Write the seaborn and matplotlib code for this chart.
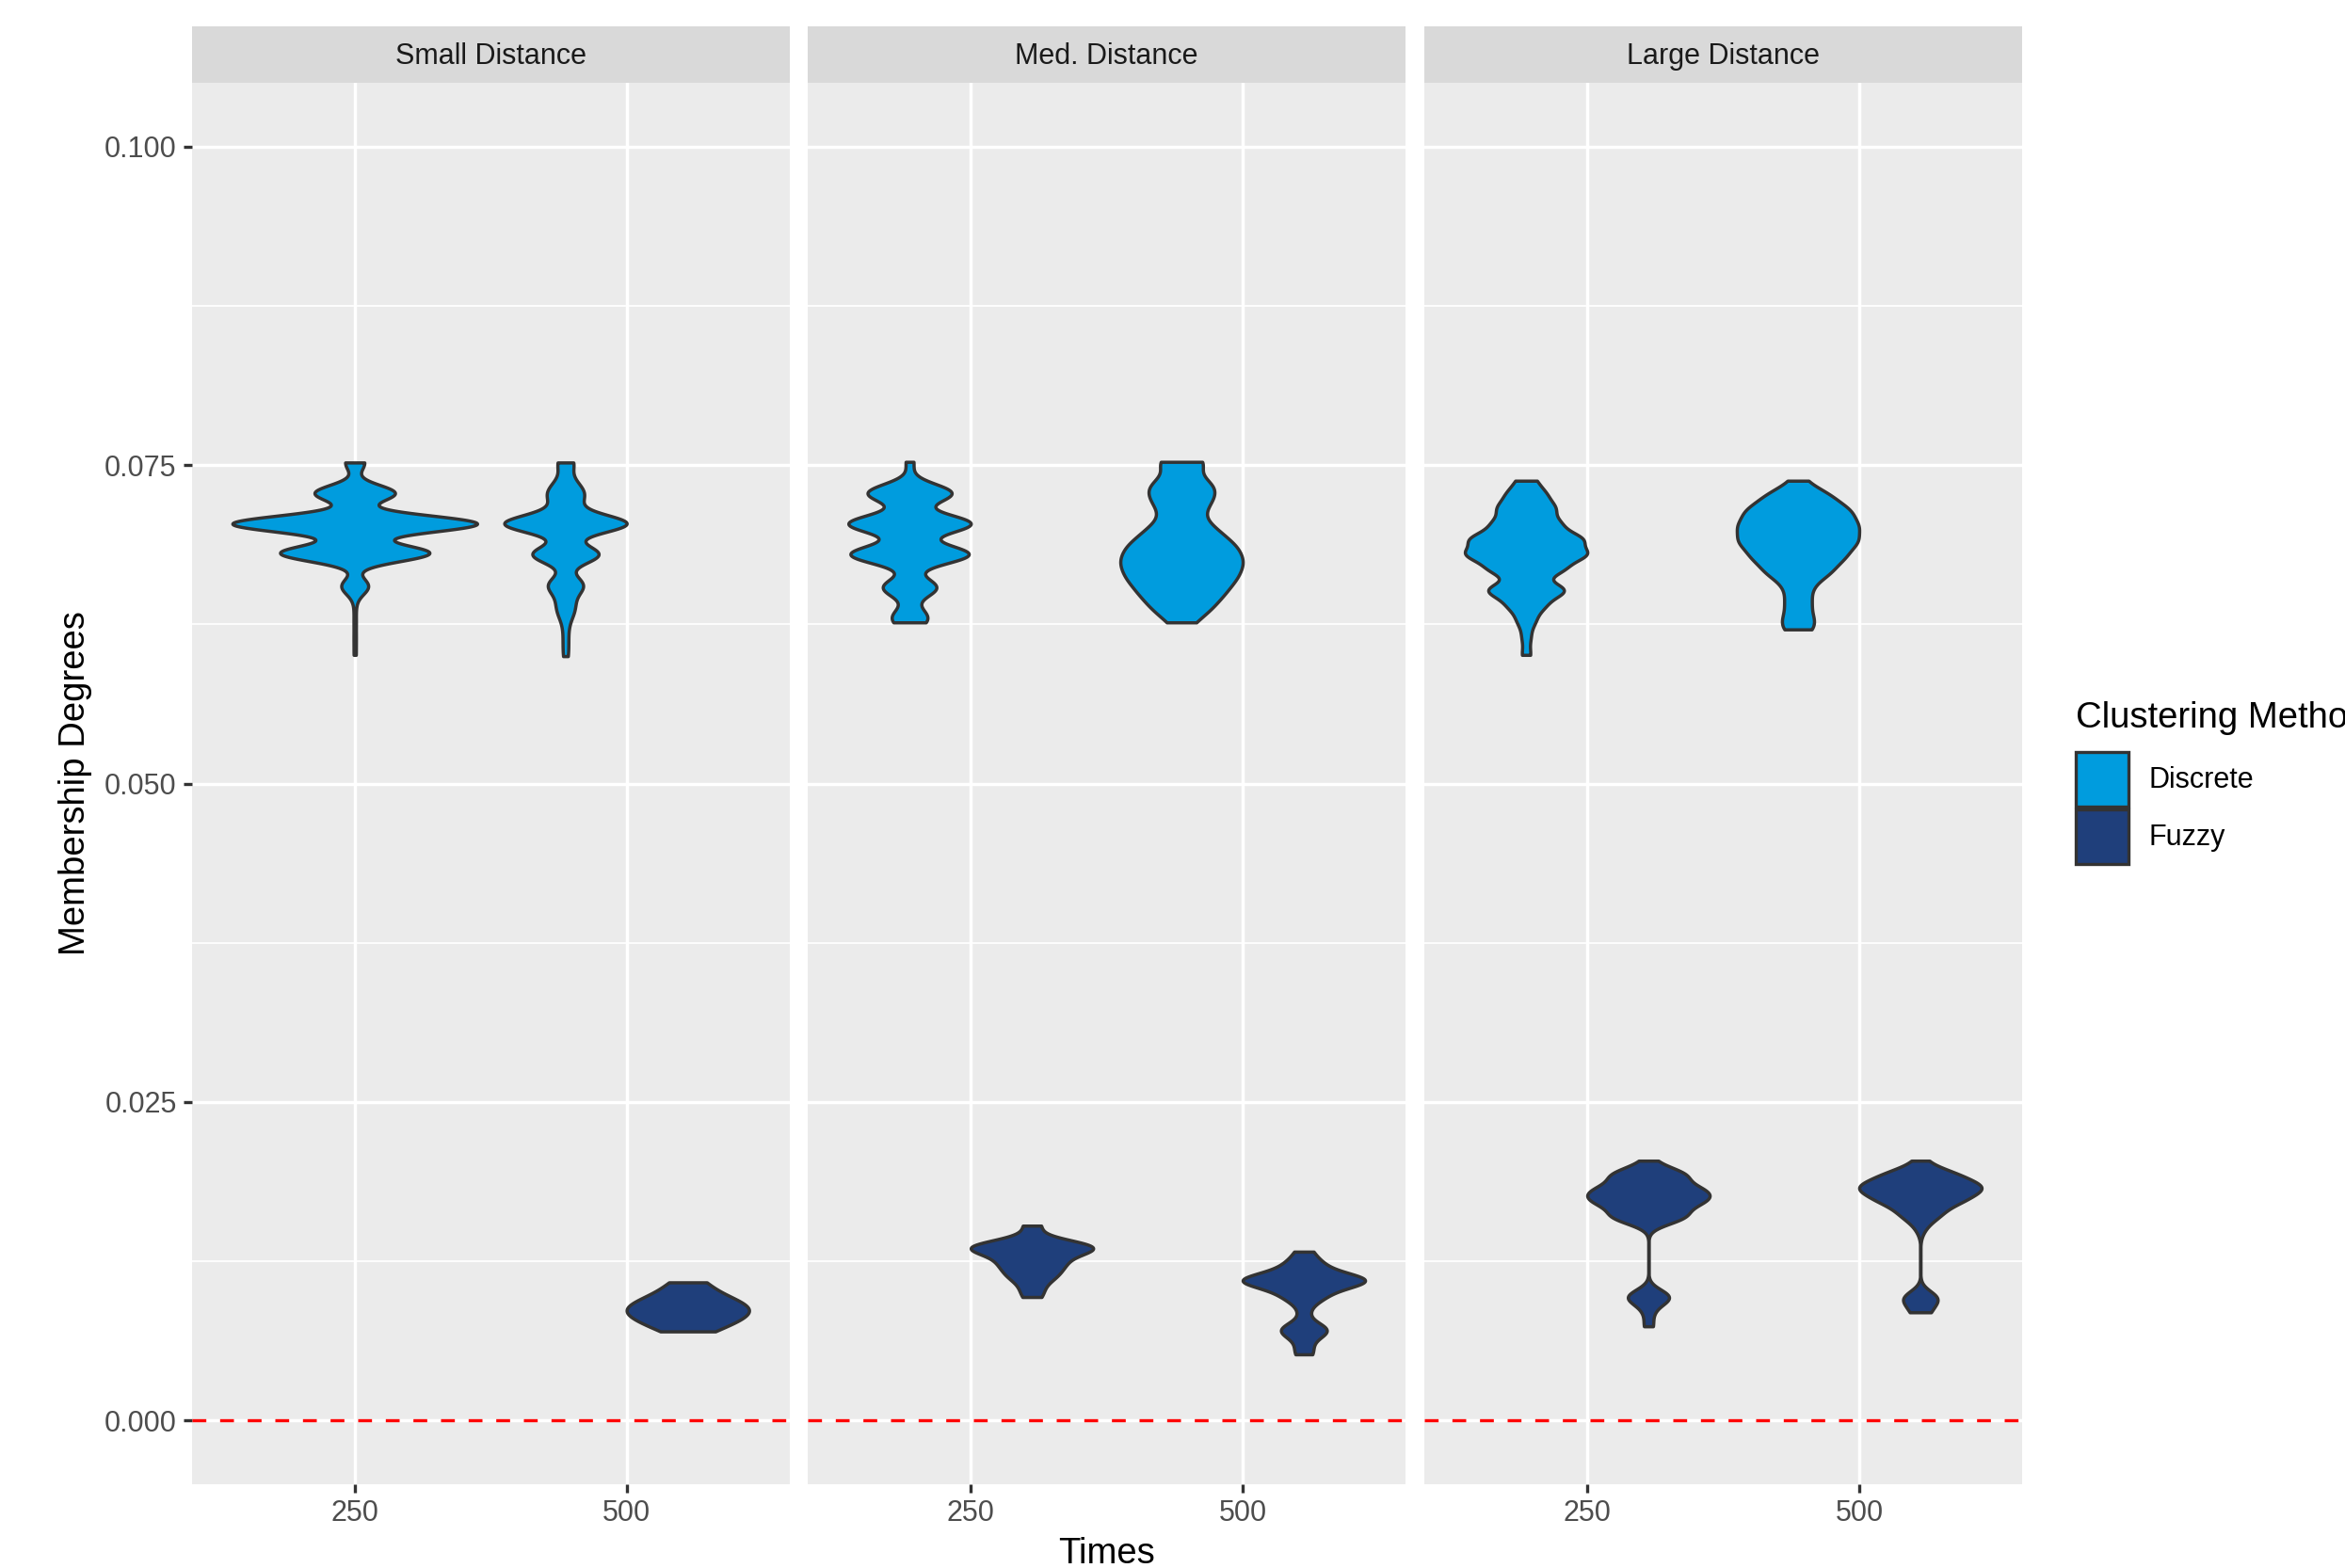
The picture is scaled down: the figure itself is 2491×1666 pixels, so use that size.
import numpy as np
import pandas as pd
import matplotlib
matplotlib.use("Agg")
import matplotlib.pyplot as plt
from matplotlib.patches import Patch
from matplotlib.ticker import FormatStrFormatter
import seaborn as sns

# ---------------------------------------------------------------- data
panels = ["Small Distance", "Med. Distance", "Large Distance"]
times = ["250", "500"]
methods = ["Discrete", "Fuzzy"]
method_colors = {"Discrete": "#009CDE", "Fuzzy": "#1F3F7B"}

y_breaks = [0.000, 0.025, 0.050, 0.075, 0.100]
y_minor_breaks = [0.0125, 0.0375, 0.0625, 0.0875]
y_limits = [-0.005, 0.105]

# membership degrees: distinct values and how many runs produced each one
small_250_discrete_values = [0.0601, 0.0614, 0.0627, 0.0640, 0.0655, 0.0681, 0.0704, 0.0728, 0.0752]
small_250_discrete_counts = [1, 1, 1, 1, 14, 78, 128, 42, 10]

small_500_discrete_values = [0.0600, 0.0611, 0.0622, 0.0634, 0.0643, 0.0656, 0.0680, 0.0704, 0.0719, 0.0728, 0.0737, 0.0752]
small_500_discrete_counts = [1, 1, 1, 3, 3, 9, 18, 33, 4, 7, 3, 4]

small_500_fuzzy_values = [0.0070, 0.0076, 0.0082, 0.0088, 0.0094, 0.0100, 0.01085]
small_500_fuzzy_counts = [3, 4, 6, 7, 5, 3, 3]

med_250_discrete_values = [0.06265, 0.0632, 0.0654, 0.0680, 0.0704, 0.0728, 0.07525]
med_250_discrete_counts = [4, 6, 14, 31, 32, 22, 2]

med_250_fuzzy_values = [0.0097, 0.0104, 0.0114, 0.0124, 0.0136, 0.0153]
med_250_fuzzy_counts = [3, 3, 9, 12, 28, 4]

med_500_discrete_values = [0.06265, 0.0638, 0.0650, 0.0662, 0.0674, 0.0686, 0.0698, 0.0710, 0.0722, 0.0734, 0.07525]
med_500_discrete_counts = [2, 5, 7, 9, 10, 9, 6, 3, 5, 6, 5]

med_500_fuzzy_values = [0.0052, 0.0060, 0.0071, 0.0086, 0.0098, 0.0110, 0.0122, 0.01326]
med_500_fuzzy_counts = [3, 2, 10, 2, 8, 26, 7, 3]

large_250_discrete_values = [0.0601, 0.0615, 0.0628, 0.0640, 0.0652, 0.0668, 0.0680, 0.0692, 0.0704, 0.0716, 0.0727, 0.07377]
large_250_discrete_counts = [1, 1, 2, 4, 9, 8, 13, 12, 7, 6, 4, 2]

large_250_fuzzy_values = [0.0074, 0.0086, 0.0097, 0.0160, 0.0172, 0.0181, 0.0193, 0.0204]
large_250_fuzzy_counts = [1, 1, 5, 8, 10, 10, 8, 1]

large_500_discrete_values = [0.0621, 0.0630, 0.0642, 0.0654, 0.0666, 0.0678, 0.0690, 0.0702, 0.0714, 0.0726, 0.07377]
large_500_discrete_counts = [2, 2, 2, 2, 5, 7, 9, 9, 8, 5, 1]

large_500_fuzzy_values = [0.0085, 0.0096, 0.0152, 0.0162, 0.0173, 0.0183, 0.0193, 0.0204]
large_500_fuzzy_counts = [2, 4, 1, 4, 8, 12, 7, 1]

groups = [
    ("Small Distance", "250", "Discrete", small_250_discrete_values, small_250_discrete_counts),
    ("Small Distance", "500", "Discrete", small_500_discrete_values, small_500_discrete_counts),
    ("Small Distance", "500", "Fuzzy", small_500_fuzzy_values, small_500_fuzzy_counts),
    ("Med. Distance", "250", "Discrete", med_250_discrete_values, med_250_discrete_counts),
    ("Med. Distance", "250", "Fuzzy", med_250_fuzzy_values, med_250_fuzzy_counts),
    ("Med. Distance", "500", "Discrete", med_500_discrete_values, med_500_discrete_counts),
    ("Med. Distance", "500", "Fuzzy", med_500_fuzzy_values, med_500_fuzzy_counts),
    ("Large Distance", "250", "Discrete", large_250_discrete_values, large_250_discrete_counts),
    ("Large Distance", "250", "Fuzzy", large_250_fuzzy_values, large_250_fuzzy_counts),
    ("Large Distance", "500", "Discrete", large_500_discrete_values, large_500_discrete_counts),
    ("Large Distance", "500", "Fuzzy", large_500_fuzzy_values, large_500_fuzzy_counts),
]

# kernel bandwidth (in membership units) used for each violin
kde_bandwidth = {
    ("Small Distance", "250", "Discrete"): 0.00065,
    ("Small Distance", "500", "Discrete"): 0.00070,
    ("Small Distance", "500", "Fuzzy"): 0.00070,
    ("Med. Distance", "250", "Discrete"): 0.00073,
    ("Med. Distance", "250", "Fuzzy"): 0.00060,
    ("Med. Distance", "500", "Discrete"): 0.00080,
    ("Med. Distance", "500", "Fuzzy"): 0.00060,
    ("Large Distance", "250", "Discrete"): 0.00060,
    ("Large Distance", "250", "Fuzzy"): 0.00060,
    ("Large Distance", "500", "Discrete"): 0.00070,
    ("Large Distance", "500", "Fuzzy"): 0.00060,
}

frames = []
for panel, t, m, vals, cnts in groups:
    frames.append(pd.DataFrame({
        "distance": panel,
        "times": t,
        "method": m,
        "membership": np.repeat(vals, cnts),
    }))
df = pd.concat(frames, ignore_index=True)

# ---------------------------------------------------------------- style
plt.rcParams["font.family"] = ["Liberation Sans", "DejaVu Sans"]

PANEL_BG = "#EBEBEB"
STRIP_BG = "#D9D9D9"
OUTLINE = "#333333"
TICK_TXT = "#4D4D4D"

fig = plt.figure(figsize=(24.91, 16.66), dpi=100)
fig.patch.set_facecolor("white")

panel_left = [0.0817, 0.3444, 0.6073]
panel_w = 0.2551
panel_b = 0.0534
panel_h = 0.8938
strip_h = 0.0360

axes = []
for i, panel in enumerate(panels):
    ax = fig.add_axes([panel_left[i], panel_b, panel_w, panel_h],
                      sharey=axes[0] if axes else None)
    axes.append(ax)
    ax.set_facecolor(PANEL_BG)

    sub_panel = df[df["distance"] == panel]
    for t in times:
        sub_t = sub_panel[sub_panel["times"] == t]
        present = [m for m in methods if m in set(sub_t["method"])]
        for m in present:
            sub = sub_t[sub_t["method"] == m]
            h = kde_bandwidth[(panel, t, m)]
            factor = h / np.std(sub["membership"].to_numpy(), ddof=1)
            sns.violinplot(
                data=sub, x="times", y="membership", hue="method",
                order=times, hue_order=present, palette=method_colors,
                dodge=True, width=0.9, cut=0, inner=None,
                density_norm="width", bw_method=factor, gridsize=400,
                linewidth=2.5, linecolor=OUTLINE, saturation=1,
                legend=False, ax=ax,
            )

    ax.axhline(0, color="red", lw=2.4, ls=(0, (4.4, 4.4)), zorder=3)

    ax.set_xlim(-0.6, 1.6)
    ax.set_ylim(*y_limits)
    ax.set_xticks(range(len(times)))
    ax.set_xticklabels(times)
    ax.set_yticks(y_breaks)
    ax.set_yticks(y_minor_breaks, minor=True)
    ax.yaxis.set_major_formatter(FormatStrFormatter("%.3f"))
    ax.set_xlabel("")
    ax.set_ylabel("")

    ax.grid(which="major", axis="both", color="white", lw=2.5)
    ax.grid(which="minor", axis="y", color="white", lw=1.25)
    ax.set_axisbelow(True)
    for s in ax.spines.values():
        s.set_visible(False)

    ax.tick_params(which="major", length=6.4, width=2.4, color=OUTLINE,
                   labelsize=22, labelcolor=TICK_TXT, pad=5.0)
    ax.tick_params(which="minor", length=0)
    if i > 0:
        ax.tick_params(axis="y", which="both", left=False, labelleft=False)

    # facet strip
    sax = fig.add_axes([panel_left[i], panel_b + panel_h, panel_w, strip_h])
    sax.set_facecolor(STRIP_BG)
    sax.set_xticks([])
    sax.set_yticks([])
    for s in sax.spines.values():
        s.set_visible(False)
    sax.text(0.5, 0.47, panel, ha="center", va="center", fontsize=22,
             color="#1A1A1A", transform=sax.transAxes)

# axis titles
fig.text(0.0321, panel_b + panel_h / 2, "Membership Degrees", rotation=90,
         ha="center", va="center", fontsize=27.5, color="black")
fig.text(panel_left[1] + panel_w / 2, 0.0028, "Times", ha="center",
         va="baseline", fontsize=27.5, color="black")

# legend: title, then one filled key per clustering method
fig.text(0.8852, 0.542, "Clustering Method", ha="left", va="center",
         fontsize=27.5, color="black")
handles = [Patch(facecolor=method_colors[m], edgecolor=OUTLINE, linewidth=2.4)
           for m in methods]
fig.legend(handles, methods, loc="upper left",
           bbox_to_anchor=(0.8852, 0.5204), frameon=False, fontsize=22,
           handlelength=1.83, handleheight=2.55,
           handletextpad=0.72, labelspacing=0.08, borderpad=0,
           borderaxespad=0)

fig.savefig("out.png", dpi=100, facecolor="white")
